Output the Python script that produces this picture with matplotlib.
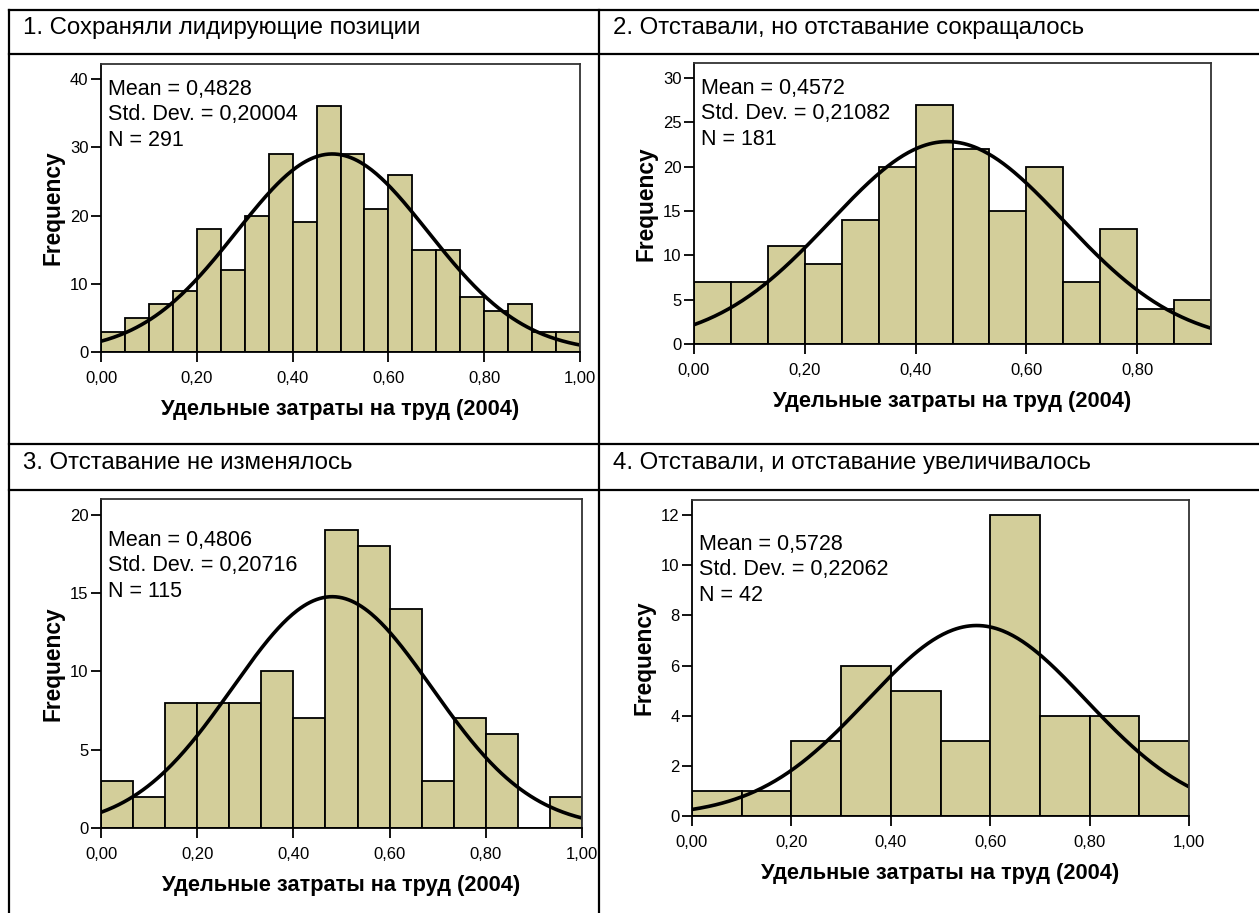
import numpy as np
import matplotlib
matplotlib.use('Agg')
import matplotlib.pyplot as plt
from matplotlib.lines import Line2D

plt.rcParams['font.family'] = ['Liberation Sans', 'DejaVu Sans']

# данные гистограмм (частоты по интервалам)
titles = ['1. Сохраняли лидирующие позиции',
          '2. Отставали, но отставание сокращалось',
          '3. Отставание не изменялось',
          '4. Отставали, и отставание увеличивалось']

counts1 = [3, 5, 7, 9, 18, 12, 20, 29, 19, 36, 29, 21, 26, 15, 15, 8, 6, 7, 3, 3]
counts2 = [7, 7, 11, 9, 14, 20, 27, 22, 15, 20, 7, 13, 4, 5]
counts3 = [3, 2, 8, 8, 8, 10, 7, 19, 18, 14, 3, 7, 6, 0, 2]
counts4 = [1, 1, 3, 6, 5, 3, 12, 4, 4, 3]

bin_width = [0.05, 1 / 15, 1 / 15, 0.1]

means = [0.4828, 0.4572, 0.4806, 0.5728]
stds = [0.20004, 0.21082, 0.20716, 0.22062]
ns = [291, 181, 115, 42]

x_ticks = [[0, 0.2, 0.4, 0.6, 0.8, 1.0],
           [0, 0.2, 0.4, 0.6, 0.8],
           [0, 0.2, 0.4, 0.6, 0.8, 1.0],
           [0, 0.2, 0.4, 0.6, 0.8, 1.0]]
y_ticks = [[0, 10, 20, 30, 40],
           [0, 5, 10, 15, 20, 25, 30],
           [0, 5, 10, 15, 20],
           [0, 2, 4, 6, 8, 10, 12]]

xlabel = 'Удельные затраты на труд (2004)'

W, H = 1259, 913
# положение осей в пикселях: left, right, top, bottom
boxes = [(101, 580, 64, 352),
         (694, 1211, 63, 344),
         (101, 582, 499, 828),
         (692, 1189, 500, 816)]
ylims = [42.2, 31.7, 21.0, 12.6]
xmax = [1.0, 14 / 15, 1.0, 1.0]

bar_color = '#D3CE9A'


def comma(v, nd):
    return f"{v:.{nd}f}".replace('.', ',')


fig = plt.figure(figsize=(W / 100, H / 100), dpi=100)

# таблица
lw_tab = 1.6
def hline(y, x0=9, x1=W):
    fig.add_artist(Line2D([x0 / W, x1 / W], [1 - y / H, 1 - y / H], color='black', lw=lw_tab))
def vline(x, y0=10, y1=H):
    fig.add_artist(Line2D([x / W, x / W], [1 - y0 / H, 1 - y1 / H], color='black', lw=lw_tab))

hline(10)
hline(54)
hline(444)
hline(490)
vline(9)
vline(599)

header_pos = [(23, 28), (613, 28), (23, 463), (613, 463)]
for (hx, hy), t in zip(header_pos, titles):
    fig.text(hx / W, 1 - hy / H, t, fontsize=17.3, va='center', ha='left')

all_counts = [counts1, counts2, counts3, counts4]
text_offset = [15, 15, 31, 34]

for i in range(4):
    l, r, t, b = boxes[i]
    ax = fig.add_axes([l / W, 1 - b / H, (r - l) / W, (b - t) / H])
    counts = all_counts[i]
    w = bin_width[i]
    lefts = np.arange(len(counts)) * w
    ax.bar(lefts, counts, width=w, align='edge', color=bar_color,
           edgecolor='black', linewidth=1.3)

    xs = np.linspace(0, xmax[i], 300)
    ys = ns[i] * w / (stds[i] * np.sqrt(2 * np.pi)) * np.exp(-0.5 * ((xs - means[i]) / stds[i]) ** 2)
    ax.plot(xs, ys, color='black', lw=2.6)

    ax.set_xlim(0, xmax[i])
    ax.set_ylim(0, ylims[i])
    ax.set_xticks(x_ticks[i])
    ax.set_xticklabels([comma(v, 2) for v in x_ticks[i]])
    ax.set_yticks(y_ticks[i])
    ax.tick_params(axis='both', direction='out', length=7, width=1.3, labelsize=12)
    ax.tick_params(axis='x', pad=7)
    ax.tick_params(axis='y', pad=2)
    for s in ax.spines.values():
        s.set_linewidth(1.3)
    ax.spines['top'].set_color('#333333')
    ax.spines['right'].set_color('#333333')

    ax.set_ylabel('Frequency', fontsize=16.4, fontweight='bold', labelpad=4)
    ax.set_xlabel(xlabel, fontsize=15.7, fontweight='bold', labelpad=9)

    stats = "Mean = " + comma(means[i], 4) + "\n" + \
            "Std. Dev. = " + comma(stds[i], 5) + "\n" + f"N = {ns[i]}"
    ax.text(7 / (r - l), 1 - text_offset[i] / (b - t), stats, transform=ax.transAxes,
            fontsize=15.5, va='top', ha='left', linespacing=1.28)

fig.savefig('out.png', dpi=100)
